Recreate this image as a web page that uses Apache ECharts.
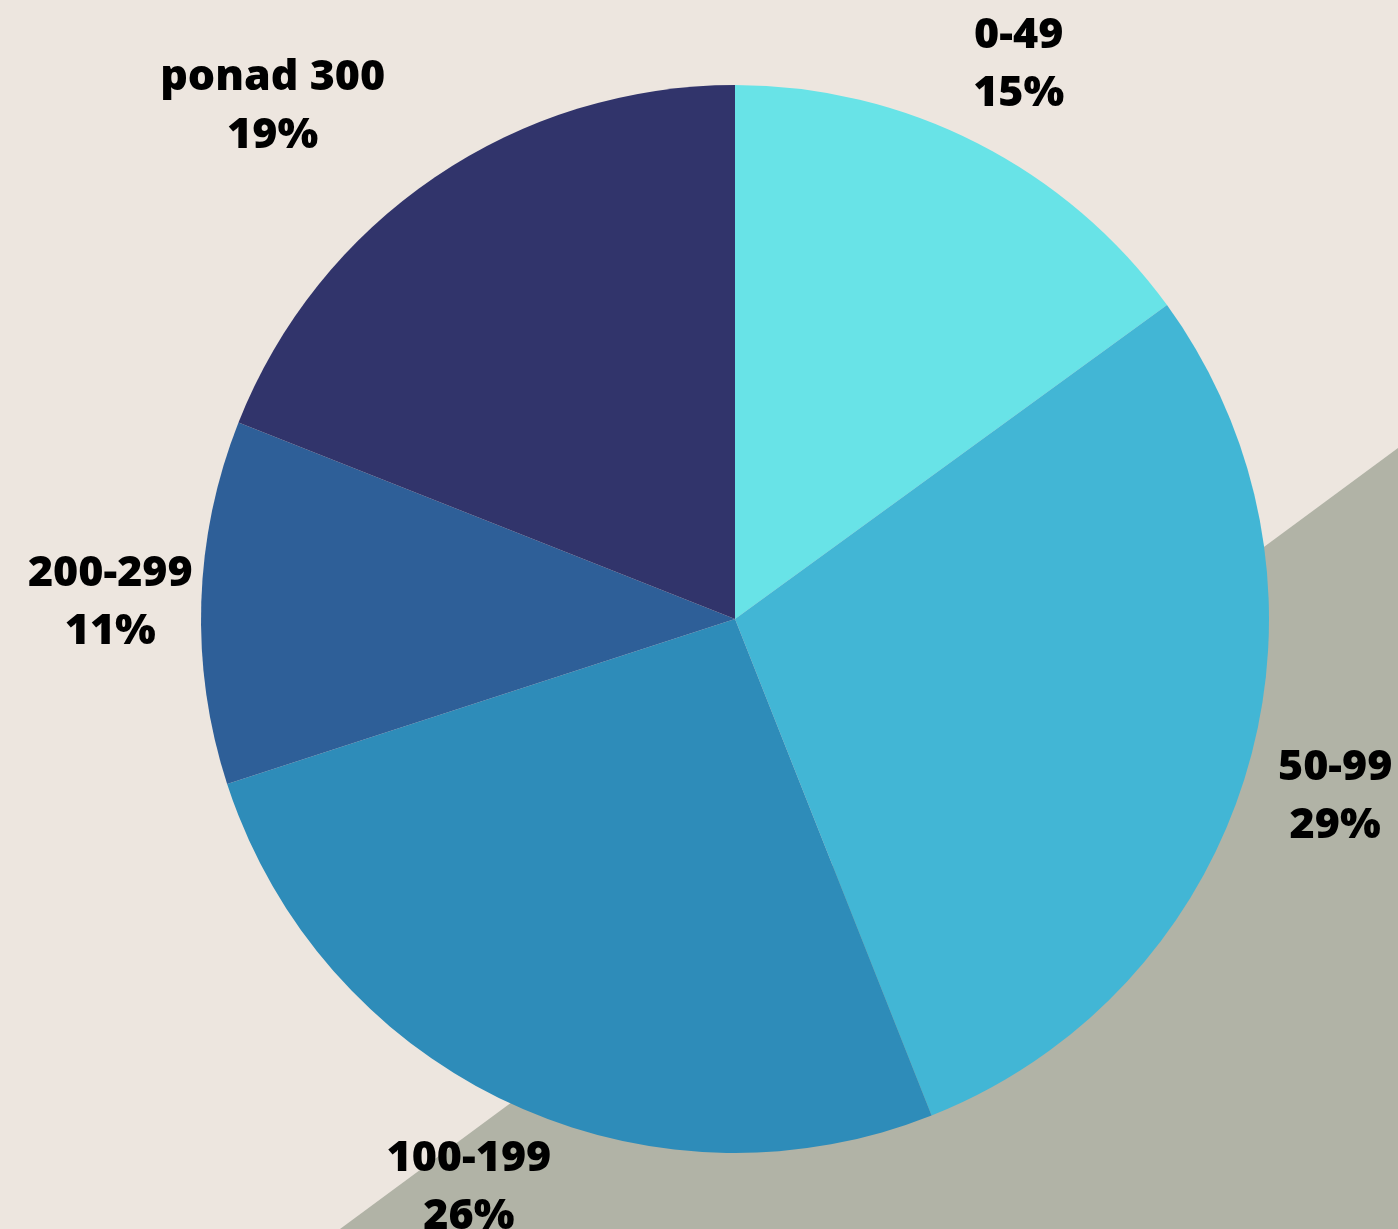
<!DOCTYPE html>
<html>
<head>
<meta charset="utf-8">
<script src="https://cdn.jsdelivr.net/npm/echarts@6/dist/echarts.min.js"></script>
<style>
html,body{margin:0;padding:0;background:#EDE6DF;}
#chart{width:1398px;height:1229px;}
</style>
</head>
<body>
<div id="chart"></div>
<script>
const categories = ['0-49', '50-99', '100-199', '200-299', 'ponad 300'];
const values = [15, 29, 26, 11, 19];
const colors = ['#68E3E7', '#42B6D5', '#2E8CB9', '#2E5F98', '#31346B'];

// label nudges (style only), keyed by category
const labelNudge = { 'ponad 300': [-111, 5] };

const data = categories.map((c, i) => ({ name: c, value: values[i], itemStyle: { color: colors[i] } }));
const labelData = categories.map((c, i) => {
  const d = { name: c, value: values[i] };
  if (labelNudge[c]) d.label = { offset: labelNudge[c] };
  return d;
});

const chart = echarts.init(document.getElementById('chart'));
chart.setOption({
  backgroundColor: '#EDE6DF',
  animation: false,
  graphic: [{
    type: 'polygon',
    z: -10,
    silent: true,
    shape: { points: [[1398, 448], [1398, 1229], [340, 1229]] },
    style: { fill: '#B1B3A6' }
  }],
  series: [{
    type: 'pie',
    center: [735, 619],
    radius: [0, 534],
    startAngle: 90,
    clockwise: true,
    silent: true,
    label: { show: false },
    labelLine: { show: false },
    itemStyle: { borderWidth: 0 },
    data: data
  }, {
    type: 'pie',
    center: [735, 619],
    radius: [534, 710],
    startAngle: 90,
    clockwise: true,
    silent: true,
    itemStyle: { color: 'transparent', borderWidth: 0 },
    labelLine: { show: false },
    label: {
      show: true,
      position: 'inside',
      offset: [0, 3],
      formatter: p => p.name + '\n' + p.value + '%',
      fontFamily: 'Open Sans',
      fontWeight: 800,
      fontSize: 43,
      lineHeight: 58,
      color: '#000',
      align: 'center'
    },
    data: labelData
  }]
});
</script>
</body>
</html>
